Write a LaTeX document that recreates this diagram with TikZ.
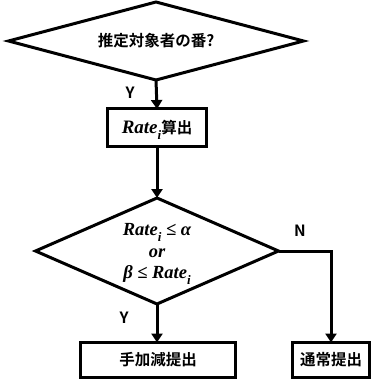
\documentclass[tikz,border=0pt]{standalone}
\usepackage{fontspec}
\usetikzlibrary{shapes.geometric,arrows.meta}
\newfontfamily\jpfont{Noto Sans CJK JP}[BoldFont={* Bold}]
\newfontfamily\formulafont{Liberation Serif}
\newcommand{\subi}{\raisebox{-0.3em}[0.55em][0pt]{\fontsize{13}{13}\selectfont i}}
\newcommand{\rateword}{{\formulafont\bfseries\itshape Rate\subi}}
\begin{document}
\begin{tikzpicture}[x=1pt,y=-1pt,
  every node/.style={inner sep=0pt,outer sep=0pt},
  flow/.style={line width=3pt},
  jptext/.style={font=\jpfont\bfseries\fontsize{15.5}{18}\selectfont},
  formula/.style={font=\formulafont\bfseries\itshape\fontsize{18.5}{21.5}\selectfont},
  decision/.style={draw,flow,shape=diamond,align=center},
  procbox/.style={draw,flow,minimum height=35pt,jptext},
  lbl/.style={font=\jpfont\bfseries\fontsize{15.5}{17}\selectfont},
  arr/.style={flow,-{Triangle[length=9pt,width=11pt]}}]
\useasboundingbox (0,0) rectangle (372,379);
% first test
\node[decision,jptext,minimum width=295pt,minimum height=78pt,aspect=3.7] (ask) at (156,41) {推定対象者の番?};
% rate computation
\node[procbox,minimum width=99pt,minimum height=38pt] (rate) at (157,128) {{\fontsize{19}{19}\selectfont\rateword}算出};
% threshold test
\node[decision,minimum width=243pt,minimum height=106pt,aspect=2.27] (test) at (157,251) {};
\node[formula,align=center] (testtext) at (157,253) {\rateword{} ≤ α\\or\\β ≤ \rateword};
% outcomes
\node[procbox,minimum width=155pt] (adjust) at (158,360) {手加減提出};
\node[procbox,minimum width=77pt] (normal) at (331,360) {通常提出};
% connectors
\draw[arr] (ask.south) -- (rate.north);
\draw[arr] (rate.south) -- (test.north);
\draw[arr] (test.south) -- (test.south |- adjust.north);
\draw[arr] (test.east) -| (normal.north);
% branch labels
\node[lbl] (y1) at (130,93) {Y};
\node[lbl] (y2) at (124,318) {Y};
\node[lbl] (n1) at (300,231) {N};
\end{tikzpicture}
\end{document}
